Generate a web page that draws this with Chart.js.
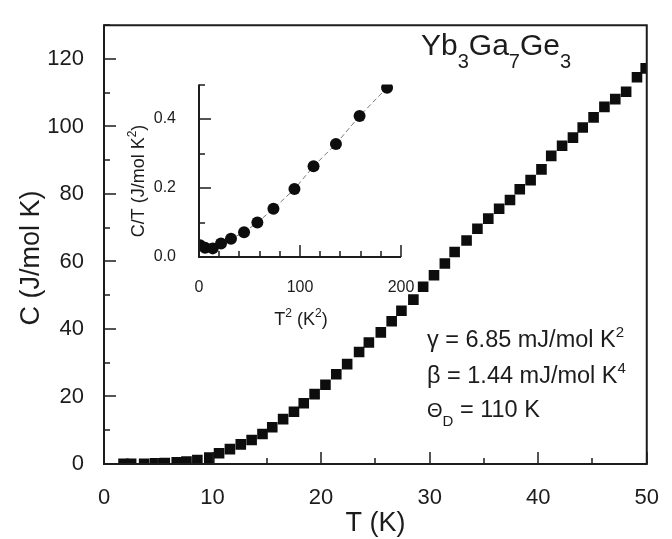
<!DOCTYPE html>
<html>
<head>
<meta charset="utf-8">
<script src="https://cdn.jsdelivr.net/npm/chart.js@4/dist/chart.umd.min.js"></script>
<style>
  html, body { margin: 0; padding: 0; background: #fff; }
  #wrap { position: relative; width: 672px; height: 539px; }
  #mainChart { position: absolute; left: 0; top: 0; }
  #insetChart { position: absolute; left: 120px; top: 60px; }
</style>
</head>
<body>
<div id="wrap">
  <canvas id="mainChart" width="672" height="539"></canvas>
  <canvas id="insetChart" width="310" height="280"></canvas>
</div>
<script>
// Main panel: C vs T
const temps = [1.8, 2.5, 3.7, 4.7, 5.6, 6.7, 7.6, 8.6, 9.7, 10.6, 11.6, 12.6, 13.6, 14.6, 15.5, 16.5,
  17.5, 18.4, 19.4, 20.4, 21.4, 22.4, 23.5, 24.4, 25.5, 26.5, 27.4, 28.5, 29.4, 30.4, 31.4, 32.3,
  33.4, 34.4, 35.4, 36.4, 37.4, 38.3, 39.3, 40.3, 41.2, 42.2, 43.2, 44.1, 45.1, 46.1, 47.1, 48.1,
  49.1, 49.9]
const heatCap = [0.06, 0.07, 0.09, 0.18, 0.3, 0.48, 0.76, 1.2, 1.9, 3.2, 4.4, 5.8, 7.1, 8.9, 10.9, 13.3,
  15.5, 18.0, 20.7, 23.5, 26.6, 29.6, 33.2, 36.0, 39.0, 42.3, 45.4, 48.7, 52.5, 55.9, 59.4, 62.8,
  66.2, 69.7, 72.7, 75.6, 78.2, 81.4, 84.1, 87.3, 91.3, 94.3, 96.7, 99.7, 102.7, 105.8, 108.1, 110.3,
  114.6, 117.2]
const mainXTicks = [0, 10, 20, 30, 40, 50]
const mainYTicks = [0, 20, 40, 60, 80, 100, 120]

// Inset: C/T vs T^2
const insetT2 = [1, 6, 13.6, 21.8, 31.7, 44.6, 57.8, 73.7, 94.5, 113.4, 135.6, 159, 186.2]
const insetCT = [0.034, 0.027, 0.025, 0.039, 0.053, 0.072, 0.1, 0.14, 0.197, 0.263, 0.328, 0.409, 0.491]
const insetXTicks = [0, 100, 200]
const insetYTicks = [0, 0.2, 0.4]

const FONT = "'Liberation Sans', Arial, sans-serif"
const INK = "#1c1c1c"

// Inward tick marks + axis lines
const inwardTicks = {
  id: "inwardTicks",
  afterDatasetsDraw(chart, args, opts) {
    const { ctx, chartArea: a, scales } = chart
    ctx.save()
    ctx.strokeStyle = INK
    ctx.lineWidth = 2
    ctx.beginPath()
    if (opts.box) {
      ctx.rect(a.left, a.top, a.right - a.left, a.bottom - a.top)
    } else {
      ctx.moveTo(a.left, a.top)
      ctx.lineTo(a.left, a.bottom)
      ctx.lineTo(a.right, a.bottom)
    }
    ctx.stroke()

    ctx.lineWidth = 1.5
    ctx.beginPath()
    const x = scales.x, y = scales.y
    for (let i = 0; x.min + i * opts.x[1] <= x.max + 1e-9; i++) {
      const v = x.min + i * opts.x[1]
      const major = Math.abs(v / opts.x[0] - Math.round(v / opts.x[0])) < 1e-6
      const px = Math.round(x.getPixelForValue(v))
      ctx.moveTo(px, a.bottom)
      ctx.lineTo(px, a.bottom - (major ? 12 : 6))
    }
    for (let i = 0; y.min + i * opts.y[1] <= y.max + 1e-9; i++) {
      const v = y.min + i * opts.y[1]
      const major = Math.abs(v / opts.y[0] - Math.round(v / opts.y[0])) < 1e-6
      const py = Math.round(y.getPixelForValue(v))
      ctx.moveTo(a.left, py)
      ctx.lineTo(a.left + (major ? 12 : 6), py)
    }
    ctx.stroke()
    ctx.restore()
  }
}

// text with sub/superscripts: parts = [text, size, dy]
function drawRich(ctx, x, y, parts, align) {
  let total = 0
  parts.forEach(p => { ctx.font = p[1] + "px " + FONT; total += ctx.measureText(p[0]).width })
  let cx = align === "center" ? x - total / 2 : x
  parts.forEach(p => {
    ctx.font = p[1] + "px " + FONT
    ctx.fillText(p[0], cx, y + (p[2] || 0))
    cx += ctx.measureText(p[0]).width
  })
}

const labels = {
  id: "labels",
  afterDraw(chart, args, opts) {
    const ctx = chart.ctx
    ctx.save()
    ctx.fillStyle = INK
    ctx.textBaseline = "alphabetic"
    ctx.textAlign = "left"
    opts.items.forEach(it => {
      ctx.save()
      ctx.translate(it.x, it.y)
      if (it.rotate) ctx.rotate(-Math.PI / 2)
      drawRich(ctx, 0, 0, it.parts, it.align)
      ctx.restore()
    })
    ctx.restore()
  }
}

function fixedTicks(list) {
  return axis => { axis.ticks = list.map(v => ({ value: v })) }
}

new Chart(document.getElementById("mainChart"), {
  type: "scatter",
  data: {
    datasets: [{
      data: temps.map((t, i) => ({ x: t, y: heatCap[i] })),
      pointStyle: "rect",
      pointRadius: 7.5,
      pointHoverRadius: 7.5,
      backgroundColor: "#0d0d0d",
      borderColor: "#0d0d0d",
      borderWidth: 0,
      clip: 0
    }]
  },
  options: {
    responsive: false,
    animation: false,
    events: [],
    layout: { padding: { left: 0, right: 14, top: 13, bottom: 0 } },
    plugins: {
      legend: { display: false },
      tooltip: { enabled: false },
      inwardTicks: { box: true, x: [10, 5], y: [20, 10] },
      labels: {
        items: [
          { x: 30, y: 258, rotate: true, align: "center", parts: [["C (J/mol K)", 27, 9]] },
          { x: 421, y: 55, parts: [["Yb", 30], ["3", 20, 13], ["Ga", 30], ["7", 20, 13], ["Ge", 30], ["3", 20, 13]] },
          { x: 427, y: 347, parts: [["\u03b3 = 6.85 mJ/mol K", 23.5], ["2", 15, -10]] },
          { x: 427, y: 383, parts: [["\u03b2 = 1.44 mJ/mol K", 23.5], ["4", 15, -10]] },
          { x: 427, y: 417, parts: [["\u0398", 20], ["D", 15, 9], [" = 110 K", 23.5]] }
        ]
      }
    },
    scales: {
      x: {
        type: "linear", min: 0, max: 50,
        afterBuildTicks: fixedTicks(mainXTicks),
        afterFit: s => { s.height = 75 },
        grid: { display: false }, border: { display: false },
        ticks: { color: INK, padding: 13, font: { family: FONT, size: 22 } },
        title: { display: true, text: "T (K)", color: INK, font: { family: FONT, size: 27, lineHeight: 1 }, padding: { top: 0, bottom: 2 } }
      },
      y: {
        type: "linear", min: 0, max: 130,
        afterBuildTicks: fixedTicks(mainYTicks),
        afterFit: s => { s.width = 104 },
        grid: { display: false }, border: { display: false },
        ticks: { color: INK, padding: 12, font: { family: FONT, size: 22 } }
      }
    }
  },
  plugins: [inwardTicks, labels]
})

new Chart(document.getElementById("insetChart"), {
  type: "scatter",
  data: {
    datasets: [{
      data: insetT2.map((t, i) => ({ x: t, y: insetCT[i] })),
      showLine: true,
      borderColor: "#7a7a7a",
      borderWidth: 1,
      borderDash: [5, 3],
      pointStyle: "circle",
      pointRadius: 6,
      pointHoverRadius: 6,
      pointBackgroundColor: "#0d0d0d",
      pointBorderWidth: 0,
      clip: 0
    }]
  },
  options: {
    responsive: false,
    animation: false,
    events: [],
    layout: { padding: { left: 0, right: 29, top: 19, bottom: 0 } },
    plugins: {
      legend: { display: false },
      tooltip: { enabled: false },
      inwardTicks: { box: false, x: [100, 20], y: [0.2, 0.1] },
      labels: {
        items: [
          { x: 24, y: 121, rotate: true, align: "center", parts: [["C/T (J/mol K", 18], ["2", 12, -8], [")", 18]] },
          { x: 181, y: 265, align: "center", parts: [["T", 18], ["2", 12, -8], [" (K", 18], ["2", 12, -8], [")", 18]] }
        ]
      }
    },
    scales: {
      x: {
        type: "linear", min: 0, max: 200,
        afterBuildTicks: fixedTicks(insetXTicks),
        afterFit: s => { s.height = 83 },
        grid: { display: false }, border: { display: false },
        ticks: { color: INK, padding: 13, font: { family: FONT, size: 16 } }
      },
      y: {
        type: "linear", min: 0, max: 0.5,
        afterBuildTicks: fixedTicks(insetYTicks),
        afterFit: s => { s.width = 79 },
        grid: { display: false }, border: { display: false },
        ticks: { color: INK, padding: 15, font: { family: FONT, size: 16 }, callback: v => v.toFixed(1) }
      }
    }
  },
  plugins: [inwardTicks, labels]
})
</script>
</body>
</html>
